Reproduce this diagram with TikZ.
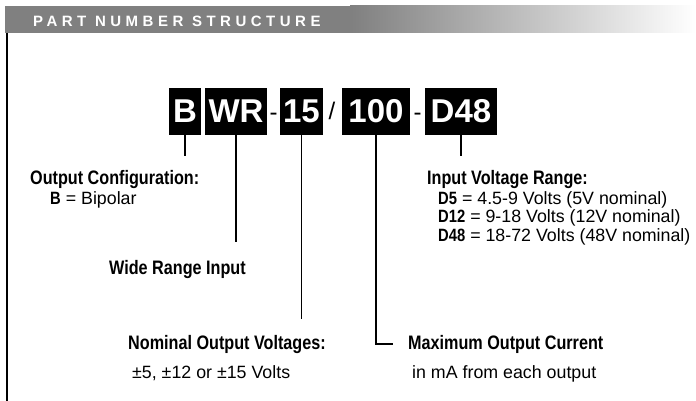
\documentclass[tikz,border=0pt]{standalone}
\usepackage{fontspec}
\setmainfont{Liberation Sans}
\newfontfamily\narrowsans[FakeStretch=0.83]{Liberation Sans}
\tikzset{
  partbox/.style={fill=black,text=white,inner sep=0pt,minimum height=47pt,
    font=\fontsize{33}{33}\selectfont\bfseries},
  partsep/.style={inner sep=0pt,anchor=base,font=\fontsize{24}{24}\selectfont},
  heading/.style={inner sep=0pt,anchor=base west,
    font=\narrowsans\bfseries\fontsize{19.5}{20}\selectfont},
  detail/.style={inner sep=0pt,anchor=base west,font=\fontsize{17.8}{18}\selectfont},
  link/.style={line width=1.4pt},
}
\newcommand{\codebf}[1]{{\narrowsans\bfseries #1}}
\begin{document}
\begin{tikzpicture}[x=1pt,y=-1pt]
\useasboundingbox (0,0) rectangle (696,401);
%%%% Add header bar and frame line
    \fill[black!50] (5,6) rectangle (350,33);
    \shade[left color=black!50,right color=white] (350,6) rectangle (696,33);
    \node[inner sep=0pt,anchor=base west,text=white,
      font=\bfseries\fontsize{15}{15}\selectfont\addfontfeatures{LetterSpace=30}]
      (header) at (33,27) {PART NUMBER STRUCTURE};
    \draw[line width=2pt] (7,33) -- (7,401);
%%%% Add part number boxes
    \node[partbox,minimum width=32pt] (bB) at (185,111.5) {B};
    \node[partbox,minimum width=62pt] (bWR) at (236,111.5) {WR};
    \node[partbox,minimum width=43pt] (b15) at (301.5,111.5) {15};
    \node[partbox,minimum width=68pt] (b100) at (376,111.5) {100};
    \node[partbox,minimum width=72pt] (bD48) at (461,111.5) {D48};
    \node[partsep] (s1) at (273.5,121) {-};
    \node[partsep] (s2) at (332,120) {/};
    \node[partsep] (s3) at (417.5,121) {-};
%%%% Add labels
    \node[heading] (cfgtitle) at (30,184) {Output Configuration:};
    \node[detail] (cfgB) at (50,204) {\codebf{B} = Bipolar};
    \node[heading] (widetitle) at (109,274) {Wide Range Input};
    \node[heading] (nomtitle) at (128,349) {Nominal Output Voltages:};
    \node[detail] (nomvolts) at (132,378) {±5, ±12 or ±15 Volts};
    \node[heading] (maxtitle) at (408,349) {Maximum Output Current};
    \node[detail] (maxunit) at (412,378) {in mA from each output};
    \node[heading] (intitle) at (427,184) {Input Voltage Range:};
    \node[detail] (inD5) at (438,204) {\codebf{D5} = 4.5-9 Volts (5V nominal)};
    \node[detail] (inD12) at (438,222) {\codebf{D12} = 9-18 Volts (12V nominal)};
    \node[detail] (inD48) at (438,241) {\codebf{D48} = 18-72 Volts (48V nominal)};
%%%% Add connectors from boxes to labels
    \draw[link,shorten >=13.5pt] (bB.south) -- (bB.south |- cfgtitle.north);
    \draw[link,shorten >=17.5pt] (bWR.south) -- (bWR.south |- widetitle.north);
    \draw[link,shorten >=15.5pt] (b15.south) -- (b15.south |- nomtitle.north);
    \draw[link] (b100.south) |- ([xshift=-15pt]maxtitle.west);
    \draw[link,shorten >=13.5pt] (bD48.south) -- (bD48.south |- intitle.north);
\end{tikzpicture}
\end{document}
